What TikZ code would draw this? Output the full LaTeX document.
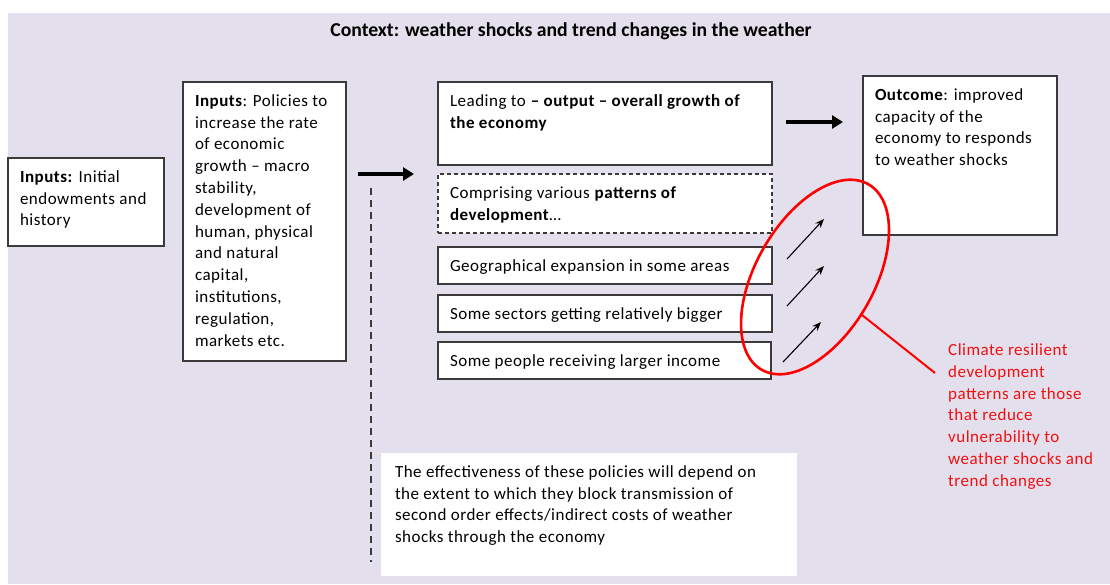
\documentclass[tikz,border=0pt]{standalone}
\usepackage{fontspec}
\setmainfont{Carlito}[LetterSpace=3]
\newfontfamily\titlefont{Carlito}
\usetikzlibrary{arrows.meta}
\definecolor{lav}{HTML}{E4DFEC}
\definecolor{bord}{HTML}{3A3A3A}
\definecolor{rtxt}{HTML}{F01010}
\newcommand\bxt[3]{\parbox[t][#2pt][t]{#1pt}{\raggedright\strut #3}}
\begin{document}
\begin{tikzpicture}[x=1pt,y=-1pt,
  txt/.style={font=\fontsize{17}{21.8}\selectfont},
  tbox/.style={txt,draw=bord,fill=white,line width=1.1pt,inner xsep=12pt,inner ysep=9pt,anchor=north west,outer sep=0pt},
  dbox/.style={tbox,dash pattern=on 4pt off 3pt},
  bigarrow/.style={line width=3.8pt,-{Triangle[length=11pt,width=13pt]}},
  smallarrow/.style={line width=1.1pt,-{Stealth[length=9pt,width=7pt]}}]
\useasboundingbox (0,0) rectangle (1110,584);
\fill[lav] (8,13) rectangle (1110,584);
\node[font=\titlefont\fontsize{19.7}{22}\selectfont\bfseries] (title) at (571,31) {Context: weather shocks and trend changes in the weather};
\node[tbox] (in1) at (8,158) {\bxt{132}{70}{\textbf{Inputs:} Initial\\endowments and\\history}};
\node[tbox] (in2) at (183,82) {\bxt{139}{261}{\textbf{Inputs}: Policies to\\increase the rate\\of economic\\growth – macro\\stability,\\development of\\human, physical\\and natural\\capital,\\institutions,\\regulation,\\markets etc.}};
\node[tbox] (lead) at (438,82) {\bxt{310}{65}{Leading to \textbf{– output – overall growth of\\the economy}}};
\node[dbox] (patt) at (438,174) {\bxt{310}{41}{Comprising various \textbf{patterns of\\development}…}};
\node[tbox] (geo) at (438,247) {\bxt{310}{19}{Geographical expansion in some areas}};
\node[tbox] (sect) at (438,295) {\bxt{310}{19}{Some sectors getting relatively bigger}};
\node[tbox] (peop) at (438,342) {\bxt{309}{19}{Some people receiving larger income}};
\node[tbox] (outc) at (863,76) {\bxt{170}{141}{\textbf{Outcome}: improved\\capacity of the\\economy to responds\\to weather shocks}};
\node[tbox,draw=none,inner xsep=14pt,inner ysep=10pt,font=\fontsize{17}{21.4}\selectfont] (eff) at (381,453) {\bxt{388}{103}{The effectiveness of these policies will depend on\\the extent to which they block transmission of\\second order effects/indirect costs of weather\\shocks through the economy}};
\node[txt,text=rtxt,anchor=north west,inner sep=0pt] (clim) at (948,340) {\bxt{160}{150}{Climate resilient\\development\\patterns are those\\that reduce\\vulnerability to\\weather shocks and\\trend changes}};
% thick arrows
\coordinate (a1s) at (358,174); \coordinate (a1e) at (414,174);
\coordinate (a2s) at (786,122); \coordinate (a2e) at (843,122);
\draw[bigarrow] (a1s) -- (a1e);
\draw[bigarrow] (a2s) -- (a2e);
% dashed vertical line
\coordinate (ds) at (371,188); \coordinate (de) at (371,562);
\draw[bord,line width=1.1pt,dash pattern=on 7pt off 5pt] (ds) -- (de);
% small arrows
\coordinate (s1a) at (787,259); \coordinate (s1b) at (824,219);
\coordinate (s2a) at (787,306); \coordinate (s2b) at (824,266);
\coordinate (s3a) at (783,362); \coordinate (s3b) at (821,322);
\draw[smallarrow] (s1a) -- (s1b);
\draw[smallarrow] (s2a) -- (s2b);
\draw[smallarrow] (s3a) -- (s3b);
% red ellipse and pointer
\coordinate (ec) at (815,277);
\draw[red,line width=2.6pt,rotate around={60:(ec)}] (ec) ellipse [x radius=107,y radius=59];
\coordinate (ra) at (862,315); \coordinate (rb) at (935,373);
\draw[red,line width=2pt] (ra) -- (rb);
\end{tikzpicture}
\end{document}
